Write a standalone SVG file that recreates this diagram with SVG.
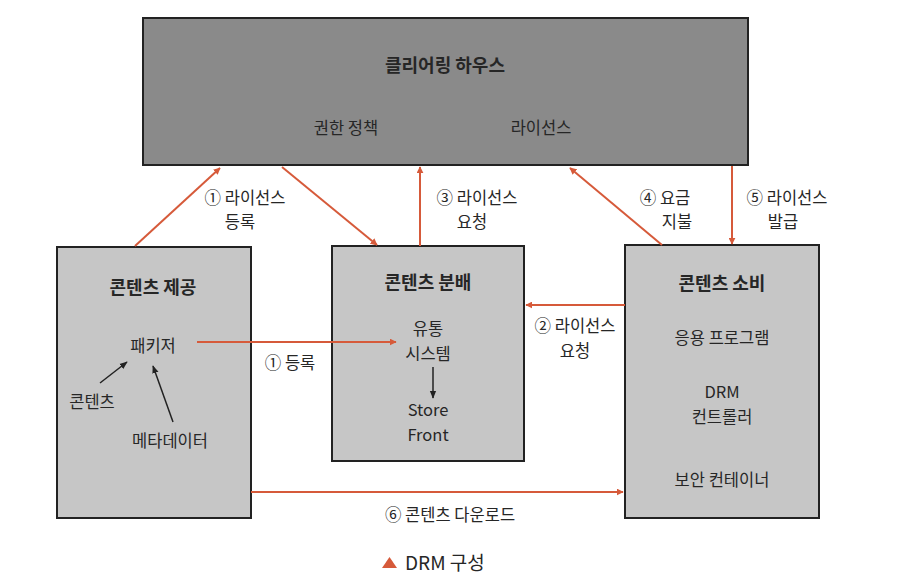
<svg xmlns="http://www.w3.org/2000/svg" width="910" height="588" viewBox="0 0 910 588">
<defs>
<style>
text{font-family:"Noto Sans CJK KR","Liberation Sans",sans-serif;fill:#262626;text-anchor:middle;}
.t{font-size:18px;font-weight:bold;}
.n{font-size:16.5px;}
.box{fill:#c6c6c6;stroke:#222;stroke-width:2;}
.top{fill:#8a8a8a;stroke:#222;stroke-width:2;}
.r{stroke:#d65a3a;stroke-width:2;fill:none;marker-end:url(#ar);}
.k{stroke:#222;stroke-width:1.5;fill:none;marker-end:url(#ak);}
</style>
<marker id="ar" viewBox="0 0 10 10" refX="9" refY="5" markerWidth="7" markerHeight="7" markerUnits="userSpaceOnUse" orient="auto"><path d="M0,0 L10,5 L0,10 z" fill="#d65a3a"/></marker>
<marker id="ak" viewBox="0 0 10 10" refX="9" refY="5" markerWidth="8" markerHeight="8" markerUnits="userSpaceOnUse" orient="auto"><path d="M0,1 L10,5 L0,9 z" fill="#222"/></marker>
</defs>
<rect width="910" height="588" fill="#fff"/>

<g id="clearing-house">
<rect class="top" x="143" y="18" width="605" height="147"/>
<text class="t" x="445" y="72" font-size="19">클리어링 하우스</text>
<text class="n" x="346" y="134">권한 정책</text>
<text class="n" x="541" y="134">라이선스</text>
</g>

<g id="provider">
<rect class="box" x="57" y="247" width="194" height="271"/>
<text class="t" x="153" y="294">콘텐츠 제공</text>
<text class="n" x="153" y="352">패키저</text>
<text class="n" x="92" y="408">콘텐츠</text>
<text class="n" x="170" y="447">메타데이터</text>
<path class="k" d="M100,383 L127,362"/>
<path class="k" d="M173,422 L153,366"/>
</g>

<g id="distribution">
<rect class="box" x="332" y="246" width="192" height="215"/>
<text class="t" x="428" y="289">콘텐츠 분배</text>
<text class="n" x="428" y="335">유통</text>
<text class="n" x="428" y="360">시스템</text>
<path class="k" d="M433,367 L433,398"/>
<text class="n" x="428" y="416">Store</text>
<text class="n" x="428" y="441">Front</text>
</g>

<g id="consumer">
<rect class="box" x="625" y="245" width="194" height="273"/>
<text class="t" x="722" y="290">콘텐츠 소비</text>
<text class="n" x="722" y="344">응용 프로그램</text>
<text class="n" x="722" y="398">DRM</text>
<text class="n" x="722" y="423">컨트롤러</text>
<text class="n" x="722" y="486">보안 컨테이너</text>
</g>

<g id="connectors">
<path class="r" d="M135,246 L220,168"/>
<path class="r" d="M282,167 L377,245"/>
<path class="r" d="M420,246 L420,167"/>
<path class="r" d="M662,245 L570,168"/>
<path class="r" d="M732,166 L732,244"/>
<path class="r" d="M625,305 L526,305"/>
<path class="r" d="M197,342 L396,342"/>
<path class="r" d="M251,492 L623,492"/>
<text class="n" x="245" y="204">① 라이선스</text>
<text class="n" x="240" y="228">등록</text>
<text class="n" x="477" y="204">③ 라이선스</text>
<text class="n" x="472" y="228">요청</text>
<text class="n" x="665" y="204">④ 요금</text>
<text class="n" x="677" y="228">지불</text>
<text class="n" x="787" y="204">⑤ 라이선스</text>
<text class="n" x="783" y="228">발급</text>
<text class="n" x="575" y="332">② 라이선스</text>
<text class="n" x="575" y="357">요청</text>
<text class="n" x="290" y="369">① 등록</text>
<text class="n" x="450" y="521">⑥ 콘텐츠 다운로드</text>
</g>

<g id="caption">
<path d="M382,568 L389.5,557 L397,568 z" fill="#d65a3a"/>
<text x="405" y="570" font-size="19" style="text-anchor:start">DRM 구성</text>
</g>
</svg>
